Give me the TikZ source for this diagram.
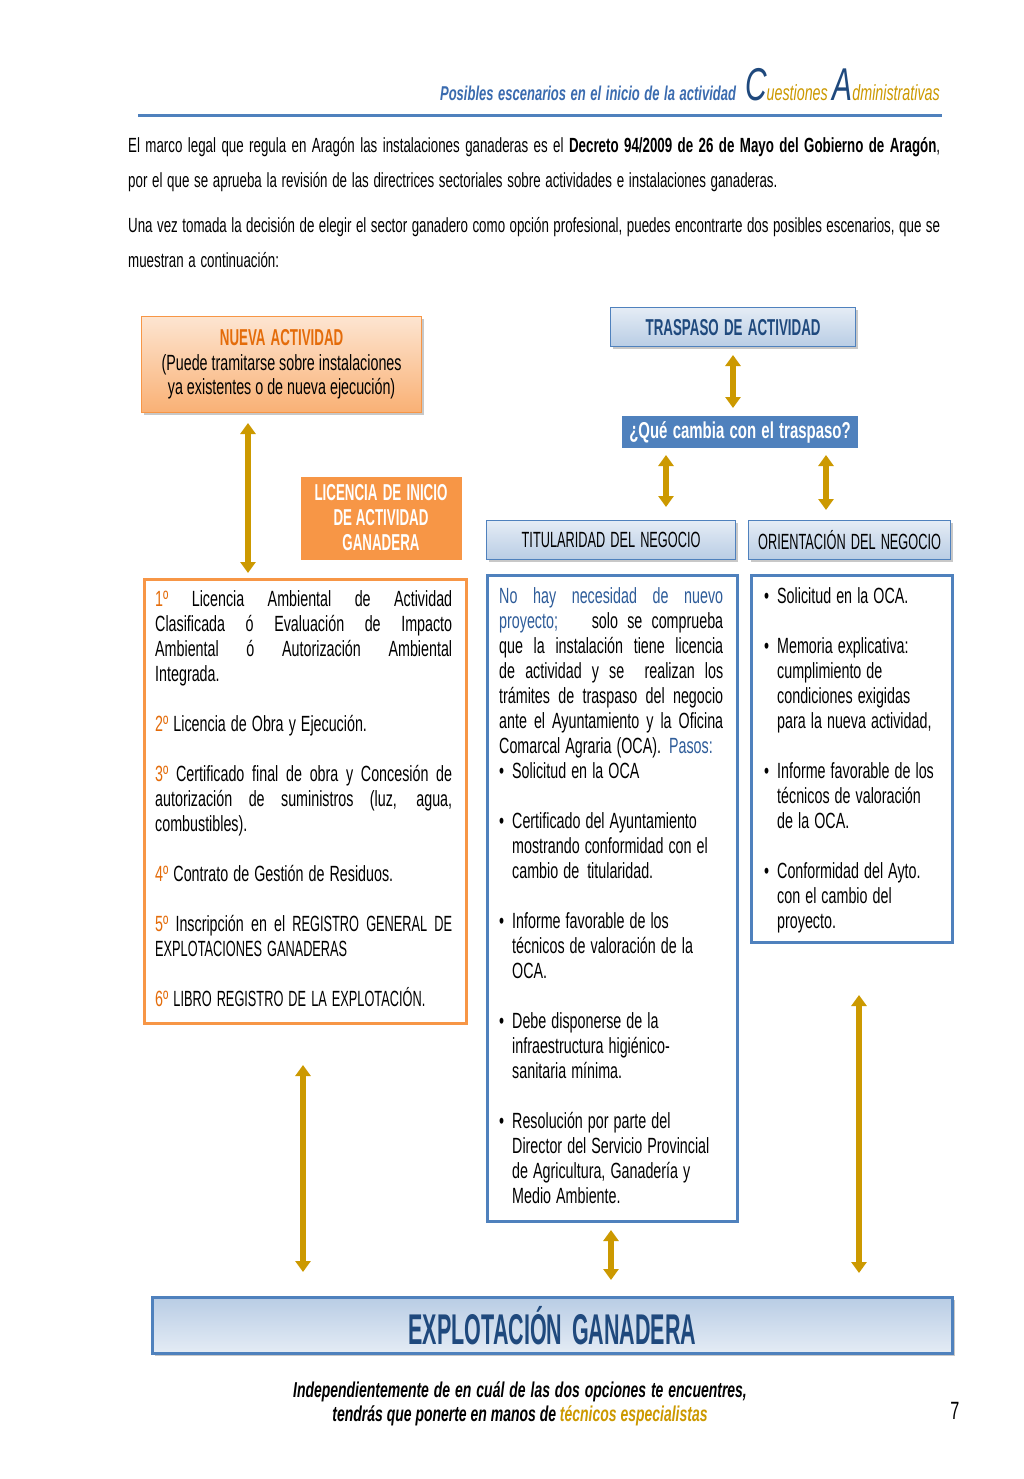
\documentclass[tikz,border=0pt]{standalone}
\usepackage{fontspec}
\setmainfont{Liberation Sans}[FakeStretch=0.65]
\newfontfamily\capsfont{Liberation Sans}[FakeStretch=0.58]
\newfontfamily\bigcapsfont{Liberation Sans}[FakeStretch=0.5]
\usetikzlibrary{arrows.meta,shadows}
\definecolor{orb}{HTML}{F79646}
\definecolor{ort}{HTML}{E46C0A}
\definecolor{blb}{HTML}{4F81BD}
\definecolor{hdb}{HTML}{3A6BAF}
\definecolor{dkb}{HTML}{1F497D}
\definecolor{gld}{HTML}{CC9900}
\definecolor{txb}{HTML}{2E5C99}
\newcommand\tsp{\spaceskip=0.23em plus 0.12em minus 0.06em\relax}
\newcommand\jl[2]{\makebox[#1][s]{\spaceskip=0.2em plus 1fil\relax #2}}
\newcommand\bl[1]{\makebox[13pt][l]{\textbullet}#1}
\newcommand\ind{\hspace*{13pt}}
\newcommand\uc[1]{{\capsfont #1}}
\begin{document}
\begin{tikzpicture}[x=1pt,y=-1pt,
  shad/.style={drop shadow={shadow xshift=2pt,shadow yshift=-2.5pt,opacity=0.3,fill=black!70}},
  dar/.style={line width=5.5pt,draw=gld,{Triangle[width=15pt,length=11pt]}-{Triangle[width=15pt,length=11pt]}},
  obox/.style={draw=orb,line width=1.2pt,top color=orb!25,bottom color=orb!75,shad,inner sep=0,anchor=north west,align=center},
  bbox/.style={draw=blb,line width=1.2pt,top color=blb!15,bottom color=blb!40,shad,inner sep=0,anchor=north west,align=center},
  framebox/.style={draw=white,line width=7pt,shad,inner sep=0,align=center},
  tbox/.style={line width=3pt,fill=white,inner sep=0,anchor=north west},
  txt/.style={inner sep=0,anchor=north west,align=left,font=\fontsize{22}{25}\selectfont}
]
\useasboundingbox[fill=white] (0,0) rectangle (1024,1479);

% header
\node[anchor=base east,inner sep=0] (hdr) at (940,101) {\color{hdb}\fontsize{20}{22}\selectfont\bfseries\itshape\tsp Posibles escenarios en el inicio de la actividad\hspace{9pt}{\color{dkb}\mdseries\fontsize{46}{46}\selectfont C}{\color{gld}\mdseries\fontsize{22}{23}\selectfont uestiones }{\color{dkb}\mdseries\fontsize{46}{46}\selectfont A}{\color{gld}\mdseries\fontsize{22}{23}\selectfont dministrativas}};
\draw[blb,line width=3pt] (138,116) -- (942,116);

% intro
\node[inner sep=0,anchor=north west,align=left,text width=812,font=\fontsize{20.5}{35}\selectfont] (intro) at (128,137) {\tsp\jl{812pt}{El marco legal que regula en Aragón las instalaciones ganaderas es el \textbf{Decreto 94/2009 de 26 de Mayo del Gobierno de Aragón},}\\
por el que se aprueba la revisión de las directrices sectoriales sobre actividades e instalaciones ganaderas.\\[10pt]
\jl{812pt}{Una vez tomada la decisión de elegir el sector ganadero como opción profesional, puedes encontrarte dos posibles escenarios, que se}\\
muestran a continuación:};

% left column
\node[obox,minimum width=280,minimum height=96,font=\fontsize{22}{24.5}\selectfont] (nueva) at (141,316) {\tsp{\capsfont\bfseries\color{ort}\fontsize{23}{24.5}\selectfont NUEVA ACTIVIDAD}\\(Puede tramitarse sobre instalaciones\\ya existentes o de nueva ejecución)};
\node[framebox,fill=orb,minimum width=168,minimum height=90,text=white,font=\capsfont\bfseries\fontsize{23}{25}\selectfont] (lic) at (381,518) {\tsp LICENCIA DE INICIO\\DE ACTIVIDAD\\GANADERA};
\node[tbox,draw=orb,minimum width=322,minimum height=444] (lbox) at (143,578) {};
\node[txt,text width=297] (ltext) at (155,590) {\tsp\jl{297pt}{{\color{ort}1º} Licencia Ambiental de Actividad}\\
\jl{297pt}{Clasificada ó Evaluación de Impacto}\\
\jl{297pt}{Ambiental ó Autorización Ambiental}\\
Integrada.\\[25pt]
{\color{ort}2º} Licencia de Obra y Ejecución.\\[25pt]
\jl{297pt}{{\color{ort}3º} Certificado final de obra y Concesión de}\\
\jl{297pt}{autorización de suministros (luz, agua,}\\
combustibles).\\[25pt]
{\color{ort}4º} Contrato de Gestión de Residuos.\\[25pt]
\jl{297pt}{{\color{ort}5º} Inscripción en el \uc{REGISTRO GENERAL DE}}\\
\uc{EXPLOTACIONES GANADERAS}\\[25pt]
{\color{ort}6º} \uc{LIBRO REGISTRO DE LA EXPLOTACIÓN.}};

% right part
\node[bbox,minimum width=245,minimum height=39,text=dkb,font=\capsfont\bfseries\fontsize{23}{25}\selectfont] (tras) at (610,307) {\tsp TRASPASO DE ACTIVIDAD};
\node[framebox,fill=blb,minimum width=243.5,minimum height=38.5,text=white,font=\bfseries\fontsize{23}{25}\selectfont] (que) at (740,432) {\tsp ¿Qué cambia con el traspaso?};
\node[bbox,minimum width=249,minimum height=39,font=\capsfont\fontsize{22}{25}\selectfont] (tit) at (486,520) {\tsp TITULARIDAD DEL NEGOCIO};
\node[bbox,minimum width=202,minimum height=39,font=\capsfont\fontsize{22}{25}\selectfont] (ori) at (748,520) {\tsp ORIENTACIÓN DEL NEGOCIO};

\node[tbox,draw=blb,minimum width=250,minimum height=646] (mbox) at (486,574) {};
\node[txt,text width=224] (mtext) at (499,587) {\tsp\jl{224pt}{\color{txb}No hay necesidad de nuevo}\\
\jl{224pt}{{\color{txb}proyecto;}\hspace{22pt} solo se comprueba}\\
\jl{224pt}{que la instalación tiene licencia}\\
\jl{224pt}{de actividad y se \ realizan los}\\
\jl{224pt}{trámites de traspaso del negocio}\\
\jl{224pt}{ante el Ayuntamiento y la Oficina}\\
Comarcal Agraria (OCA).\hspace{8pt}{\color{txb}Pasos:}\\
\bl{Solicitud en la OCA}\\[25pt]
\bl{Certificado del Ayuntamiento}\\
\ind mostrando conformidad con el\\
\ind cambio de\hspace{8pt}titularidad.\\[25pt]
\bl{Informe favorable de los}\\
\ind técnicos de valoración de la\\
\ind OCA.\\[25pt]
\bl{Debe disponerse de la}\\
\ind infraestructura higiénico-\\
\ind sanitaria mínima.\\[25pt]
\bl{Resolución por parte del}\\
\ind Director del Servicio Provincial\\
\ind de Agricultura, Ganadería y\\
\ind Medio Ambiente.};

\node[tbox,draw=blb,minimum width=201,minimum height=367] (rbox) at (750,574) {};
\node[txt,text width=185] (rtext) at (764,587) {\tsp\bl{Solicitud en la OCA.}\\[25pt]
\bl{Memoria explicativa:}\\
\ind cumplimiento de\\
\ind condiciones exigidas\\
\ind para la nueva actividad,\\[25pt]
\bl{Informe favorable de los}\\
\ind técnicos de valoración\\
\ind de la OCA.\\[25pt]
\bl{Conformidad del Ayto.}\\
\ind con el cambio del\\
\ind proyecto.};

% bottom
\node[draw=blb,line width=3pt,top color=blb!40,bottom color=blb!15,shad,inner sep=0,anchor=north west,minimum width=800,minimum height=56,text=dkb,font=\bigcapsfont\bfseries\fontsize{43}{44}\selectfont] (exp) at (151,1296) {\tsp EXPLOTACIÓN GANADERA};

\node[inner sep=0,align=center,font=\bfseries\itshape\fontsize{21.5}{24}\selectfont] (foot) at (520,1404) {\tsp Independientemente de en cuál de las dos opciones te encuentres,\\tendrás que ponerte en manos de {\color{gld}técnicos especialistas}};
\node[inner sep=0,font=\fontsize{25}{25}\selectfont] (pnum) at (955,1411) {7};

% arrows
\coordinate (a1t) at (248,423); \coordinate (a1b) at (248,573);
\coordinate (a2t) at (733,355); \coordinate (a2b) at (733,408);
\coordinate (a3t) at (666,455); \coordinate (a3b) at (666,507);
\coordinate (a4t) at (826,455); \coordinate (a4b) at (826,510);
\coordinate (a5t) at (303,1065); \coordinate (a5b) at (303,1272);
\coordinate (a6t) at (611,1230); \coordinate (a6b) at (611,1280);
\coordinate (a7t) at (859,995); \coordinate (a7b) at (859,1273);
\foreach \i in {1,...,7} {\draw[dar] (a\i t) -- (a\i b);}
\end{tikzpicture}
\end{document}
